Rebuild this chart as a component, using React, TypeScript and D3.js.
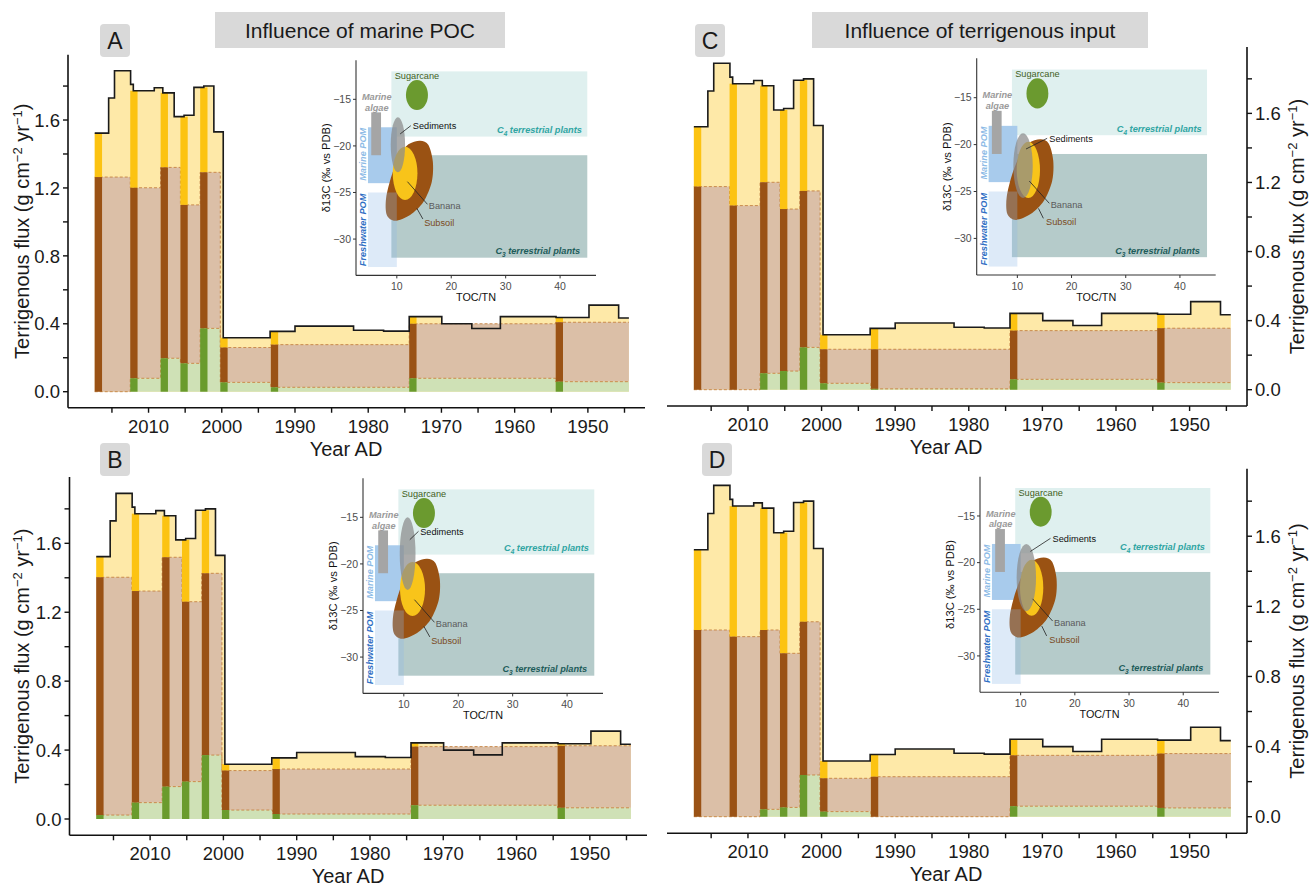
import React from 'react';
import * as d3 from 'd3';

const FONT = '"Liberation Sans", Arial, Helvetica, sans-serif';

// ---------------- Data ----------------
// sample intervals (Year AD): each isotope sample starts an interval
const sampleYears = [2017.35, 2012.5, 2008.35, 2005.65, 2002.95, 2000.2, 1993.3, 1974.4, 1954.4];
const recordEndYear = 1944.4;
const sampleBarYears = 1.0;
const sampleTotalFlux = [1.523, 1.772, 1.76, 1.62, 1.792, 0.318, 0.355, 0.442, 0.437];

// total terrigenous flux (step line)
const fluxStepYears = [2017.35, 2015.45, 2014.65, 2012.45, 2012.08, 2009.22, 2008.05, 2006.5, 2005.15, 2003.8, 2002.45, 2001.08, 1999.8, 1993.4, 1990.0, 1982.0, 1977.9, 1974.4, 1969.95, 1965.85, 1961.95, 1954.35, 1949.85, 1945.8];
const fluxStepValues = [1.523, 1.73, 1.89, 1.81, 1.772, 1.79, 1.76, 1.62, 1.628, 1.792, 1.8, 1.53, 0.318, 0.355, 0.386, 0.362, 0.357, 0.442, 0.4, 0.372, 0.442, 0.437, 0.51, 0.434];

// source contributions per sample (g cm-2 yr-1); banana = remainder to total
const sugarcaneA = [0, 0.079, 0.197, 0.167, 0.373, 0.055, 0.026, 0.079, 0.059];
const subsoilA = [1.264, 1.122, 1.124, 0.933, 0.919, 0.205, 0.251, 0.321, 0.35];
const sugarcaneB = [0.023, 0.095, 0.188, 0.217, 0.371, 0.052, 0.029, 0.08, 0.065];
const subsoilB = [1.38, 1.228, 1.331, 1.044, 1.055, 0.229, 0.261, 0.34, 0.36];
const sugarcaneC = [0, 0, 0.095, 0.108, 0.245, 0.037, 0.005, 0.06, 0.041];
const subsoilC = [1.176, 1.066, 1.106, 0.938, 0.906, 0.197, 0.229, 0.282, 0.315];
const sugarcaneD = [0, 0, 0.042, 0.053, 0.238, 0.029, 0, 0.06, 0.05];
const subsoilD = [1.065, 1.027, 1.023, 0.879, 0.874, 0.19, 0.228, 0.29, 0.31];

const yTicks = [0, 0.2, 0.4, 0.6, 0.8, 1.0, 1.2, 1.4, 1.6, 1.8];
const yTickLabels = ['0.0', '0.4', '0.8', '1.2', '1.6'];
const xTicks = [2015, 2010, 2005, 2000, 1995, 1990, 1985, 1980, 1975, 1970, 1965, 1960, 1955, 1950, 1945];
const xTickLabels = [2010, 2000, 1990, 1980, 1970, 1960, 1950];

// inset (TOC/TN vs d13C) source fields
const insetXTicks = [10, 20, 30, 40];
const insetYTicks = [-15, -20, -25, -30];
const c4TocTn = [9, 45];
const c4D13C = [-19, -12];
const c3TocTn = [9, 45];
const c3D13C = [-32, -21];
const marinePomTocTn = [4.7, 10];
const marinePomD13C = [-24, -18];
const freshPomTocTn = [4.7, 10];
const freshPomD13C = [-33, -25];
const marineAlgaeTocTn = [5.3, 7.1];
const marineAlgaeD13C = [-21, -16.4];
const sugarcaneField = [13.7, -14.54, 2.02, 1.61]; // cx, cy, rx, ry
const subsoilFieldTocTn = [14.28, 15.81, 16.62, 16.43, 14.9, 12.44, 9.69, 8.16, 8.03, 9.08, 10.6, 12.13];
const subsoilFieldD13C = [-19.44, -19.9, -21.7, -23.84, -25.99, -27.41, -28.03, -27.41, -25.62, -23.12, -20.98, -19.83];
const bananaFieldA = [11.52, -22.94, 2.27, 2.86];
const bananaFieldB = [11.6, -22.7, 2.3, 2.9];
const bananaFieldC = [12.03, -22.7, 2.15, 3.0];
const bananaFieldD = [12.03, -22.7, 2.15, 3.0];
const sedimentsA = [10.2, -19.88, 1.32, 2.95];
const sedimentsB = [10.7, -18.9, 1.45, 3.9];
const sedimentsC = [11.05, -22.25, 1.79, 3.45];
const sedimentsD = [11.05, -21.6, 1.79, 3.6];

// ---------------- Layout & style ----------------
const xDomain = [2021, 1942.2];
const yDomain = [-0.0945, 1.9845];
const insetXDomain = [2.5, 46.6];
const insetYDomain = [-33.9, -10.8];

const COL = {
  yellowLight: '#fee9a8', yellowDark: '#fcc312',
  brownLight: '#dbbfa7', brownDark: '#9a5215',
  greenLight: '#cfe1b6', greenDark: '#6a9b2d',
  dash: '#c98a4c',
};

const panels = [
  {
    id: 'A', xRange: [68, 645], yZero: 391.7, ppu: 169.8, side: 'left', xTitle: 346,
    box: [100, 24, 30, 33], sugar: sugarcaneA, soil: subsoilA,
    inset: { left: 356, top: 60.2, width: 240, height: 215.2 },
    banana: bananaFieldA, sed: sedimentsA,
    sedLabel: { line: [10.61, -18.72, 12.57, -17.83], text: [12.94, -17.83] },
    banLabel: { line: [11.95, -23.84, 15.63, -26.27], text: [15.88, -26.42] },
    soilLabel: { line: [13.68, -26.7, 14.78, -27.84], text: [15.02, -28.24] },
  },
  {
    id: 'B', xRange: [69.5, 647], yZero: 819, ppu: 172.3, side: 'left', xTitle: 348,
    box: [100, 443, 30, 33], sugar: sugarcaneB, soil: subsoilB,
    inset: { left: 363, top: 478.2, width: 240, height: 215.2 },
    banana: bananaFieldB, sed: sedimentsB,
    sedLabel: { line: [11.1, -17.4, 12.7, -16.5], text: [13.0, -16.5] },
    banLabel: { line: [11.95, -23.84, 15.63, -26.27], text: [15.88, -26.42] },
    soilLabel: { line: [13.68, -26.7, 14.78, -27.84], text: [15.02, -28.24] },
  },
  {
    id: 'C', xRange: [667, 1247], yZero: 389.7, ppu: 172.7, side: 'right', xTitle: 946,
    box: [695, 24, 30, 33], sugar: sugarcaneC, soil: subsoilC,
    inset: { left: 976.7, top: 58.3, width: 239, height: 216.7 },
    banana: bananaFieldC, sed: sedimentsC,
    sedLabel: { line: [11.6, -20.47, 15.5, -19.33], text: [15.9, -19.33] },
    banLabel: { line: [12.2, -23.88, 15.9, -26.26], text: [16.16, -26.44] },
    soilLabel: { line: [13.9, -26.8, 14.8, -27.86], text: [15.3, -28.22] },
  },
  {
    id: 'D', xRange: [667, 1247], yZero: 816.7, ppu: 175.3, side: 'right', xTitle: 946,
    box: [702, 443, 30, 33], sugar: sugarcaneD, soil: subsoilD,
    inset: { left: 980, top: 476.8, width: 239, height: 215.5 },
    banana: bananaFieldD, sed: sedimentsD,
    sedLabel: { line: [11.8, -18.8, 15.5, -17.4], text: [15.9, -17.4] },
    banLabel: { line: [12.2, -23.88, 15.9, -26.26], text: [16.16, -26.44] },
    soilLabel: { line: [13.9, -26.8, 14.8, -27.86], text: [15.3, -28.22] },
  },
];

function Inset({ p }: { p: any }) {
  const L = p.inset;
  const x = d3.scaleLinear().domain(insetXDomain).range([L.left, L.left + L.width]);
  const y = d3.scaleLinear().domain(insetYDomain).range([L.top + L.height, L.top]);
  const kx = Math.abs(x(1) - x(0));
  const ky = Math.abs(y(1) - y(0));
  const rect = (xr: number[], yr: number[], fill: string, op = 1) => (
    <rect x={x(xr[0])} y={y(yr[1])} width={x(xr[1]) - x(xr[0])} height={y(yr[0]) - y(yr[1])} fill={fill} fillOpacity={op} />
  );
  const ell = (e: number[], fill: string, op = 1) => (
    <ellipse cx={x(e[0])} cy={y(e[1])} rx={e[2] * kx} ry={e[3] * ky} fill={fill} fillOpacity={op} />
  );
  const blob = d3.line<number>().x((_, i) => x(subsoilFieldTocTn[i])).y((_, i) => y(subsoilFieldD13C[i])).curve(d3.curveCardinalClosed.tension(0.1));
  const lead = (l: number[]) => <line x1={x(l[0])} y1={y(l[1])} x2={x(l[2])} y2={y(l[3])} stroke="#222" strokeWidth={0.8} />;
  const bottom = L.top + L.height;
  const ts = 10.5;
  const lab = 9.2;
  return (
    <g fontFamily={FONT}>
      {rect(c4TocTn, c4D13C, '#dff0ef')}
      {rect(c3TocTn, c3D13C, '#b5cbca')}
      {rect(marinePomTocTn, marinePomD13C, '#a8cbec')}
      {rect(marineAlgaeTocTn, marineAlgaeD13C, '#a5a5a5')}
      <path d={blob(subsoilFieldTocTn) as string} fill="#9a5213" />
      {rect(freshPomTocTn, freshPomD13C, '#8fb8e8', 0.3)}
      {ell(p.banana, '#f8c41a')}
      {ell(p.sed, '#8a8a8a', 0.72)}
      {ell(sugarcaneField, '#6b9a2f')}
      {lead(p.sedLabel.line)}
      {lead(p.banLabel.line)}
      {lead(p.soilLabel.line)}
      <text x={x(sugarcaneField[0])} y={y(-12.47)} dy="0.35em" fontSize={lab} textAnchor="middle" fill="#3f5f1c">Sugarcane</text>
      <text x={x(p.sedLabel.text[0])} y={y(p.sedLabel.text[1])} dy="0.35em" fontSize={lab} fill="#111">Sediments</text>
      <text x={x(p.banLabel.text[0])} y={y(p.banLabel.text[1])} dy="0.35em" fontSize={lab} fill="#5a5a5a">Banana</text>
      <text x={x(p.soilLabel.text[0])} y={y(p.soilLabel.text[1])} dy="0.35em" fontSize={lab} fill="#7a4a1c">Subsoil</text>
      <text x={x(6.32)} y={y(-14.72)} dy="0.35em" fontSize={lab} textAnchor="middle" fill="#9a9a9a" fontStyle="italic" fontWeight="bold">Marine</text>
      <text x={x(6.32)} y={y(-15.86)} dy="0.35em" fontSize={lab} textAnchor="middle" fill="#9a9a9a" fontStyle="italic" fontWeight="bold">algae</text>
      <text x={x(44.0)} y={y(-18.29)} dy="0.35em" fontSize={lab} textAnchor="end" fill="#2fa5a3" fontStyle="italic" fontWeight="bold">C<tspan dy="3" fontSize={6.5}>4</tspan><tspan dy="-3"> terrestrial plants</tspan></text>
      <text x={x(43.7)} y={y(-31.28)} dy="0.35em" fontSize={lab} textAnchor="end" fill="#1d5c5a" fontStyle="italic" fontWeight="bold">C<tspan dy="3" fontSize={6.5}>3</tspan><tspan dy="-3"> terrestrial plants</tspan></text>
      <text transform={`translate(${x(3.75)},${y(-20.9)}) rotate(-90)`} dy="0.35em" fontSize={lab} textAnchor="middle" fill="#8dbbe6" fontStyle="italic" fontWeight="bold">Marine POM</text>
      <text transform={`translate(${x(3.75)},${y(-29.02)}) rotate(-90)`} dy="0.35em" fontSize={lab} textAnchor="middle" fill="#2f6fc4" fontStyle="italic" fontWeight="bold">Freshwater POM</text>
      {/* axes */}
      <line x1={L.left} x2={L.left} y1={L.top} y2={bottom} stroke="#333" strokeWidth={1.1} />
      <line x1={L.left} x2={L.left + L.width} y1={bottom} y2={bottom} stroke="#333" strokeWidth={1.1} />
      {insetYTicks.map((t) => (
        <g key={t}>
          <line x1={L.left - 3} x2={L.left} y1={y(t)} y2={y(t)} stroke="#333" strokeWidth={1} />
          <text x={L.left - 5} y={y(t)} dy="0.35em" fontSize={ts} textAnchor="end" fill="#4d4d4d">{'\u2212' + Math.abs(t)}</text>
        </g>
      ))}
      {insetXTicks.map((t) => (
        <g key={t}>
          <line x1={x(t)} x2={x(t)} y1={bottom} y2={bottom + 3} stroke="#333" strokeWidth={1} />
          <text x={x(t)} y={bottom + 15} fontSize={ts} textAnchor="middle" fill="#4d4d4d">{t}</text>
        </g>
      ))}
      <text x={L.left + L.width / 2} y={bottom + 26} fontSize={10.8} textAnchor="middle" fill="#111">TOC/TN</text>
      <text transform={`translate(${L.left - 26},${L.top + L.height / 2}) rotate(-90)`} fontSize={11.2} textAnchor="middle" fill="#111">δ13C (‰ vs PDB)</text>
    </g>
  );
}

function Panel({ p }: { p: any }) {
  const x = d3.scaleLinear().domain(xDomain).range(p.xRange);
  const y = d3.scaleLinear().domain(yDomain).range([p.yZero - yDomain[0] * p.ppu, p.yZero - yDomain[1] * p.ppu]);
  const n = sampleYears.length;
  const ends = sampleYears.map((s, i) => (i < n - 1 ? sampleYears[i + 1] : recordEndYear));
  const greenTop = p.sugar as number[];
  const brownTop = greenTop.map((g: number, i: number) => g + p.soil[i]);
  const fluxPts: [number, number][] = fluxStepYears.map((yr, i) => [yr, fluxStepValues[i]] as [number, number]);
  fluxPts.push([recordEndYear, fluxStepValues[fluxStepValues.length - 1]]);
  const line = d3.line<[number, number]>().x((d) => x(d[0])).y((d) => y(d[1])).curve(d3.curveStepAfter);
  const area = d3.area<[number, number]>().x((d) => x(d[0])).y0(y(0)).y1((d) => y(d[1])).curve(d3.curveStepAfter);
  const levelPts = (lv: number[]): [number, number][] => {
    const pts = sampleYears.map((s, i) => [s, lv[i]] as [number, number]);
    pts.push([recordEndYear, lv[n - 1]]);
    return pts;
  };
  const top = y(yDomain[1]);
  const bottom = y(yDomain[0]);
  const axisX = p.side === 'left' ? p.xRange[0] : p.xRange[1];
  const dir = p.side === 'left' ? -1 : 1;
  const fs = 18.5;
  const yMid = (top + bottom) / 2;
  const titleX = p.side === 'left' ? 29 : 1304;
  const [bx, by, bw, bh] = p.box;
  return (
    <g fontFamily={FONT}>
      {/* light fills */}
      <path d={area(fluxPts) as string} fill={COL.yellowLight} />
      {sampleYears.map((s, i) => (
        <g key={'l' + i}>
          <rect x={x(s)} y={y(brownTop[i])} width={x(ends[i]) - x(s)} height={y(greenTop[i]) - y(brownTop[i])} fill={COL.brownLight} />
          <rect x={x(s)} y={y(greenTop[i])} width={x(ends[i]) - x(s)} height={y(0) - y(greenTop[i])} fill={COL.greenLight} />
        </g>
      ))}
      <path d={line(levelPts(brownTop)) as string} fill="none" stroke={COL.dash} strokeWidth={1} strokeDasharray="3 2" />
      <path d={line(levelPts(greenTop)) as string} fill="none" stroke={COL.dash} strokeWidth={1} strokeDasharray="3 2" />
      {/* sample bars */}
      {sampleYears.map((s, i) => {
        const x0 = x(s);
        const w = x(s - sampleBarYears) - x0;
        return (
          <g key={'b' + i}>
            <rect x={x0} y={y(sampleTotalFlux[i])} width={w} height={y(brownTop[i]) - y(sampleTotalFlux[i])} fill={COL.yellowDark} />
            <rect x={x0} y={y(brownTop[i])} width={w} height={y(greenTop[i]) - y(brownTop[i])} fill={COL.brownDark} />
            <rect x={x0} y={y(greenTop[i])} width={w} height={y(0) - y(greenTop[i])} fill={COL.greenDark} />
          </g>
        );
      })}
      <path d={line(fluxPts) as string} fill="none" stroke="#1a1a1a" strokeWidth={1.6} />
      {/* axes */}
      <line x1={axisX} x2={axisX} y1={top} y2={bottom} stroke="#111" strokeWidth={1.6} />
      <line x1={p.xRange[0]} x2={p.xRange[1]} y1={bottom} y2={bottom} stroke="#111" strokeWidth={1.6} />
      {yTicks.map((t) => (
        <line key={'yt' + t} x1={axisX} x2={axisX + dir * 5} y1={y(t)} y2={y(t)} stroke="#111" strokeWidth={1.4} />
      ))}
      {yTickLabels.map((t) => (
        <text key={'yl' + t} x={axisX + dir * 8} y={y(+t)} dy="0.36em" fontSize={fs} textAnchor={p.side === 'left' ? 'end' : 'start'} fill="#1a1a1a">{t}</text>
      ))}
      {xTicks.map((t) => (
        <line key={'xt' + t} x1={x(t)} x2={x(t)} y1={bottom} y2={bottom + 5} stroke="#111" strokeWidth={1.4} />
      ))}
      {xTickLabels.map((t) => (
        <text key={'xl' + t} x={x(t)} y={bottom + 25} fontSize={fs} textAnchor="middle" fill="#1a1a1a">{t}</text>
      ))}
      <text x={p.xTitle} y={bottom + 48} fontSize={20} textAnchor="middle" fill="#1a1a1a">Year AD</text>
      <text transform={`translate(${titleX},${yMid}) rotate(-90)`} fontSize={20} textAnchor="middle" fill="#1a1a1a">
        Terrigenous flux (g cm<tspan dy="-7" fontSize={13}>−2</tspan><tspan dy="7"> yr</tspan><tspan dy="-7" fontSize={13}>−1</tspan><tspan dy="7">)</tspan>
      </text>
      <rect x={bx} y={by} width={bw} height={bh} rx={4} fill="#d9d9d9" />
      <text x={bx + bw / 2} y={by + bh / 2} dy="0.36em" fontSize={23} textAnchor="middle" fill="#1a1a1a">{p.id}</text>
      <Inset p={p} />
    </g>
  );
}

export default function App() {
  return (
    <svg width={1310} height={889} viewBox="0 0 1310 889" style={{ display: 'block', position: 'absolute', left: 0, top: 0, background: '#fff' }}>
      <rect width={1310} height={889} fill="#fff" />
      <rect x={215} y={12} width={290} height={36} fill="#d9d9d9" />
      <text x={360} y={30} dy="0.36em" fontSize={21} textAnchor="middle" fontFamily={FONT} fill="#1a1a1a">Influence of marine POC</text>
      <rect x={812} y={12} width={336} height={36} fill="#d9d9d9" />
      <text x={980} y={30} dy="0.36em" fontSize={21} textAnchor="middle" fontFamily={FONT} fill="#1a1a1a">Influence of terrigenous input</text>
      {panels.map((p) => (
        <Panel key={p.id} p={p} />
      ))}
    </svg>
  );
}
